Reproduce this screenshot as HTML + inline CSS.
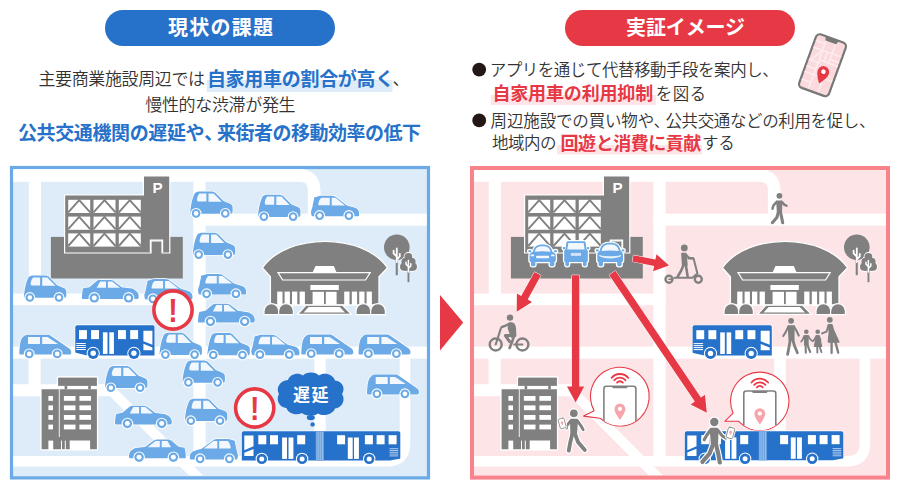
<!DOCTYPE html>
<html lang="ja"><head><meta charset="utf-8"><title>現状の課題 / 実証イメージ</title>
<style>html,body{margin:0;padding:0;background:#fff}svg{display:block}</style></head><body>
<svg width="900" height="490" viewBox="0 0 900 490" font-family="&quot;Liberation Sans&quot;, &quot;Noto Sans CJK JP&quot;, sans-serif">
<defs>
<g id="kei">
<path d="M0.2,20 C0.8,14 2,8 3.6,4.5 C4.5,2 5.5,0.8 8.6,0.3 L20.6,0.3 C23,0.3 24.5,0.8 26,2.4 L33.4,9.9 L40,12.6 C42,13.5 42.5,15 42.5,16.5 L42.5,20.5 C42.5,22 41.5,22.5 40.5,22.5 L1.5,22.5 C0.5,22.5 0,21.5 0.2,20 Z" fill="#6BAAE6" stroke="#fff" stroke-width="1.4" paint-order="stroke"/>
<path d="M9.5,2.2 L16.3,2.2 L16.3,10.3 L8.5,10.3 C7,10.3 6.5,9 7,7.5 C7.5,5 8,3.5 9.5,2.2Z M18.4,2.2 L23.5,2.2 L31.7,10.5 L18.4,10.5 Z" fill="#F2F8FD"/>
<circle cx="6" cy="22.2" r="5.4" fill="#fff"/><circle cx="6" cy="22.2" r="4.3" fill="#6BAAE6"/><circle cx="6" cy="22.2" r="2.28" fill="#fff"/><circle cx="35.2" cy="22.2" r="5.4" fill="#fff"/><circle cx="35.2" cy="22.2" r="4.3" fill="#6BAAE6"/><circle cx="35.2" cy="22.2" r="2.28" fill="#fff"/>
</g>
<g id="sedan">
<path d="M0,17.5 L0,18.4 C0,19 0.4,19.3 1,19.3 L55.4,19.3 C56.4,19.3 56.8,18.4 56.8,16.4 C56.6,13.6 55.4,12 53,10.6 C52,9.8 51.2,9.2 50,9 L41.5,7.9 C40.4,7.7 39.8,7.4 39,6.8 L32.4,1.8 C31.4,1 30.4,0.6 29,0.5 L18,0.5 C16.4,0.5 15.4,0.9 14.2,1.8 L8.4,6.8 C7.6,7.4 7,7.7 6,7.9 L2.4,8.5 C1.4,8.7 1,9.2 0.8,10.2 C0.4,12.6 0.1,15 0,17.5Z" fill="#6BAAE6" stroke="#fff" stroke-width="1.4" paint-order="stroke"/>
<path d="M18.3,1.9 L24.1,1.9 L24.1,8.2 L14.8,8.2 Z M26,1.9 L30.3,1.9 L38.1,8.2 L26,8.2Z" fill="#F2F8FD"/>
<circle cx="12.4" cy="18.3" r="5.800000000000001" fill="#fff"/><circle cx="12.4" cy="18.3" r="4.7" fill="#6BAAE6"/><circle cx="12.4" cy="18.3" r="2.49" fill="#fff"/><circle cx="46.7" cy="18.3" r="5.800000000000001" fill="#fff"/><circle cx="46.7" cy="18.3" r="4.7" fill="#6BAAE6"/><circle cx="46.7" cy="18.3" r="2.49" fill="#fff"/>
</g>
<g id="hatch">
<path d="M3.2,3.8 L2.8,2.6 L3.4,2.3 C7,1 10,0.6 11.7,0.6 L20.7,0.6 C23,0.6 24.5,1.4 25.8,2.6 L36,10.2 L44,12.6 C46.5,13.4 47.5,15 48.1,17.2 L48.1,19.5 C48.1,20.5 47.5,21 46.5,21 L2,21 C1,21 0.5,20.4 0.3,19 L0,17.2 C0.3,15 1,13 1.5,11.5 C2,8 2.6,5.5 3.2,3.8Z" fill="#6BAAE6" stroke="#fff" stroke-width="1.4" paint-order="stroke"/>
<path d="M10.5,2.6 L18.8,2.6 L18.8,10 L8,10 C7,10 7.2,8 7.9,6.5 C8.5,4.5 9.5,3.2 10.5,2.6Z M20.7,2.6 L24.5,2.6 L34.1,10.2 L20.7,10.2Z" fill="#F2F8FD"/>
<circle cx="8.6" cy="20.4" r="5.5" fill="#fff"/><circle cx="8.6" cy="20.4" r="4.4" fill="#6BAAE6"/><circle cx="8.6" cy="20.4" r="2.33" fill="#fff"/><circle cx="37.9" cy="20.4" r="5.5" fill="#fff"/><circle cx="37.9" cy="20.4" r="4.4" fill="#6BAAE6"/><circle cx="37.9" cy="20.4" r="2.33" fill="#fff"/>
</g>
<g id="van">
<path d="M0,18.7 C0.2,14 0.5,11 0.9,9 C1.5,5.5 2.5,3.5 4.2,2.2 C5.5,1 6.5,0.3 7.9,0.3 L28.2,0.3 C30,0.3 31,0.8 32.5,2 L49.2,13.5 C50.8,14.6 51.9,16 51.9,17.2 L51.9,18.5 C51.9,19.7 51.3,20.2 50.3,20.2 L1.5,20.2 C0.5,20.2 0,19.7 0,18.7Z" fill="#6BAAE6" stroke="#fff" stroke-width="1.4" paint-order="stroke"/>
<path d="M8.7,2.7 L20.7,2.7 L20.7,9.7 L8.7,9.7Z M22.9,2.7 L28.2,2.7 L38.7,9.7 L22.9,9.7Z" fill="#F2F8FD"/>
<circle cx="9.9" cy="19.5" r="5.5" fill="#fff"/><circle cx="9.9" cy="19.5" r="4.4" fill="#6BAAE6"/><circle cx="9.9" cy="19.5" r="2.33" fill="#fff"/><circle cx="37.9" cy="19.5" r="5.5" fill="#fff"/><circle cx="37.9" cy="19.5" r="4.4" fill="#6BAAE6"/><circle cx="37.9" cy="19.5" r="2.33" fill="#fff"/>
</g>
<clipPath id="clipL"><rect x="11.5" y="167.5" width="417" height="310.4"/></clipPath><clipPath id="clipR"><rect x="472" y="168" width="416" height="309.6"/></clipPath></defs>
<rect width="900" height="490" fill="#fff"/>
<rect x="105" y="10" width="230" height="36" rx="18" fill="#2671C9"/>
<text x="168" y="35.2" font-weight="bold" font-size="20" fill="#fff" textLength="105" lengthAdjust="spacing">現状の課題</text>
<rect x="565" y="10" width="230" height="36" rx="18" fill="#E73945"/>
<text x="626" y="35.2" font-weight="bold" font-size="20" fill="#fff" textLength="119" lengthAdjust="spacing">実証イメージ</text>
<rect x="206.7" y="80" width="185.8" height="12" fill="#DEECF9"/>
<text x="38.5" y="85.2" font-size="17" font-weight="350" fill="#333333" textLength="166.5" lengthAdjust="spacing">主要商業施設周辺では</text>
<text x="206.9" y="85.6" font-weight="bold" font-size="19" fill="#2671C9" textLength="187.4" lengthAdjust="spacing">自家用車の割合が高く</text>
<text x="392.5" y="85.2" font-size="17" font-weight="350" fill="#333333">、</text>
<text x="145.2" y="110.6" font-size="17" font-weight="350" fill="#333333" textLength="150.4" lengthAdjust="spacing">慢性的な渋滞が発生</text>
<text y="139.6" font-weight="bold" font-size="19" fill="#2671C9"><tspan x="18" textLength="186.6" lengthAdjust="spacing">公共交通機関の遅延や</tspan><tspan x="204.2">、</tspan><tspan x="217" textLength="204" lengthAdjust="spacing">来街者の移動効率の低下</tspan></text>
<rect x="490.7" y="95" width="165.3" height="10" fill="#FDE5E7"/>
<rect x="557" y="145" width="145" height="9.5" fill="#FDE5E7"/>
<circle cx="479.2" cy="69.6" r="6.9" fill="#231815"/><circle cx="479.2" cy="120.4" r="6.9" fill="#231815"/>
<text x="489.7" y="76" font-size="16.5" font-weight="350" fill="#333333" textLength="289" lengthAdjust="spacing">アプリを通じて代替移動手段を案内し、</text>
<text x="492.4" y="100" font-weight="bold" font-size="18" fill="#E73945" textLength="160.8" lengthAdjust="spacing">自家用車の利用抑制</text>
<text x="655.8" y="99.6" font-size="16.5" font-weight="350" fill="#333333" textLength="50.2" lengthAdjust="spacing">を図る</text>
<text y="126.8" font-size="16.5" font-weight="350" fill="#333333"><tspan x="490.6" textLength="163.6" lengthAdjust="spacing">周辺施設での買い物や</tspan><tspan x="653.4">、</tspan><tspan x="665.4" textLength="210" lengthAdjust="spacing">公共交通などの利用を促し、</tspan></text>
<text x="492" y="149.2" font-size="16.5" font-weight="350" fill="#333333" textLength="64.5" lengthAdjust="spacing">地域内の</text>
<text x="560.6" y="149.6" font-weight="bold" font-size="18" fill="#E73945" textLength="140.6" lengthAdjust="spacing">回遊と消費に貢献</text>
<text x="702" y="149.2" font-size="16.5" font-weight="350" fill="#333333" textLength="32.7" lengthAdjust="spacing">する</text>
<g transform="translate(822.5,65.2) rotate(20)">
<rect x="-15.9" y="-28.4" width="31.8" height="56.8" rx="4.2" fill="#FBDADD" stroke="#777777" stroke-width="2.2"/>
<path d="M-14.8,-14 L14.8,-14 M-14.8,-1 L-3,-1 M-14.8,12 L14.8,12 M-14.8,20 L-5,20 M-5,-27 L-5,27 M5,-27 L5,-4 M5,12 L5,27 M-14.8,-21 L-5,-21 M5,-8 L14.8,-8 M-5,-4 L14.8,-4 M0,-14 L0,-4 M-14.8,6 L-5,6 M-5,-14 L-13,-1" stroke="#FDEDEF" stroke-width="1.5" fill="none"/>
<path d="M-7,-28.6 L7,-28.6 L6,-25 Q5.7,-24.2 4.8,-24.2 L-4.8,-24.2 Q-5.7,-24.2 -6,-25Z" fill="#777777"/>
<path d="M3.1,18.4 C-0.6,13 -2.7,9.6 -2.7,6 A5.8,5.8 0 0 1 8.9,6 C8.9,9.6 6.8,13 3.1,18.4Z" fill="#E73945"/><circle cx="3.1" cy="5.8" r="2.3" fill="#fff"/>
</g>
<path d="M440,295 L463.2,322.6 L440,350.6Z" fill="#E73945"/>
<rect x="11.5" y="167.5" width="417" height="310.4" fill="#DEECF9"/>
<g clip-path="url(#clipL)">
<g transform="translate(0,0)">
<path d="M12,175.4 L299,175.4 Q314.2,175.4 314.2,191 L314.2,220" fill="none" stroke="#fff" stroke-width="12.6"/>
<rect x="12" y="168" width="290" height="13.3" fill="#fff"/>
<rect x="28.8" y="168" width="12.2" height="130" fill="#fff"/>
<rect x="193.4" y="175" width="12.2" height="285" fill="#fff"/>
<rect x="193.4" y="213.7" width="236" height="11.9" fill="#fff"/>
<rect x="12" y="293.6" width="193.6" height="11.6" fill="#fff"/>
<rect x="12" y="346.6" width="417" height="12" fill="#fff"/>
<rect x="28.6" y="358" width="12.1" height="30" fill="#fff"/>
<path d="M12,384.3 L111.9,384.3 L203,475.4 L189,475.4 L110,396.3 L12,396.3Z" fill="#fff"/>
<rect x="314.3" y="358" width="11.4" height="100" fill="#fff"/>
<path d="M12,461.3 L387,461.3 Q405,461.3 405,443 L405,356" fill="none" stroke="#fff" stroke-width="10.6"/>
</g>
</g>
<rect x="11.5" y="167.5" width="417" height="310.4" fill="none" stroke="#6BAAE6" stroke-width="3.2"/>
<rect x="50.9" y="236.9" width="131.9" height="41.6" fill="#808080"/>
<path d="M65.2,195.6 L144,195.6 L144,176.4 L169.2,176.4 L169.2,252.4 L162.6,252.4 L162.6,240.2 L150.4,240.2 L150.4,252.4 L65.2,252.4Z" fill="#808080" stroke="#fff" stroke-width="2.4" paint-order="stroke" stroke-linejoin="miter"/><path d="M150.4,252.4 L150.4,240.2 L162.6,240.2 L162.6,252.4" fill="none" stroke="#fff" stroke-width="1.2"/>
<rect x="68.2" y="199.8" width="22" height="13.2" fill="#fff"/>
<path d="M68.2,212.4 L79.2,200.1 L90.2,212.4" fill="none" stroke="#808080" stroke-width="1.9"/>
<rect x="93.5" y="199.8" width="22" height="13.2" fill="#fff"/>
<path d="M93.5,212.4 L104.5,200.1 L115.5,212.4" fill="none" stroke="#808080" stroke-width="1.9"/>
<rect x="118.8" y="199.8" width="22" height="13.2" fill="#fff"/>
<path d="M118.8,212.4 L129.8,200.1 L140.8,212.4" fill="none" stroke="#808080" stroke-width="1.9"/>
<rect x="68.2" y="216.6" width="22" height="13.2" fill="#fff"/>
<path d="M68.2,229.2 L79.2,216.9 L90.2,229.2" fill="none" stroke="#808080" stroke-width="1.9"/>
<rect x="93.5" y="216.6" width="22" height="13.2" fill="#fff"/>
<path d="M93.5,229.2 L104.5,216.9 L115.5,229.2" fill="none" stroke="#808080" stroke-width="1.9"/>
<rect x="118.8" y="216.6" width="22" height="13.2" fill="#fff"/>
<path d="M118.8,229.2 L129.8,216.9 L140.8,229.2" fill="none" stroke="#808080" stroke-width="1.9"/>
<rect x="68.2" y="233.4" width="22" height="13.2" fill="#fff"/>
<path d="M68.2,246.0 L79.2,233.7 L90.2,246.0" fill="none" stroke="#808080" stroke-width="1.9"/>
<rect x="93.5" y="233.4" width="22" height="13.2" fill="#fff"/>
<path d="M93.5,246.0 L104.5,233.7 L115.5,246.0" fill="none" stroke="#808080" stroke-width="1.9"/>
<rect x="118.8" y="233.4" width="22" height="13.2" fill="#fff"/>
<path d="M118.8,246.0 L129.8,233.7 L140.8,246.0" fill="none" stroke="#808080" stroke-width="1.9"/>
<text x="157.6" y="193.2" font-family="&quot;Liberation Sans&quot;, &quot;Noto Sans CJK JP&quot;, sans-serif" font-weight="bold" font-size="15.2" fill="#fff" text-anchor="middle">P</text>
<g stroke="#fff" stroke-width="1.3" stroke-linejoin="round">
<path d="M262.3,267.8 C275,250 300,241.3 325,241.3 C350,241.3 375,250 387.6,267.8 L379,276.8 L379,305 L270.4,305 L270.4,276.8 Z" fill="#808080"/>
</g>
<path d="M278,272.6 L370.2,272.6 L365.6,280 L282.6,280Z" fill="#808080" stroke="#fff" stroke-width="1.2"/>
<path d="M315.5,266 L333.8,266 L336.6,272.6 L312.6,272.6Z" fill="#fff"/>
<rect x="310.4" y="285" width="28.4" height="5" fill="#fff"/>
<rect x="312.6" y="291.8" width="11.4" height="13" fill="#fff"/>
<rect x="325.8" y="291.8" width="10.8" height="13" fill="#fff"/>
<rect x="277.2" y="291.6" width="5.3" height="13.4" fill="#fff"/>
<rect x="284.6" y="291.6" width="5.3" height="13.4" fill="#fff"/>
<rect x="292" y="291.6" width="5.3" height="13.4" fill="#fff"/>
<rect x="299.6" y="291.6" width="5.3" height="13.4" fill="#fff"/>
<rect x="344.2" y="291.6" width="5.3" height="13.4" fill="#fff"/>
<rect x="351.8" y="291.6" width="5.3" height="13.4" fill="#fff"/>
<rect x="359.2" y="291.6" width="5.3" height="13.4" fill="#fff"/>
<rect x="366.6" y="291.6" width="5.3" height="13.4" fill="#fff"/>
<path d="M306,305.2 L342.4,305.2 L351.4,314.4 L297.6,314.4Z" fill="#808080" stroke="#fff" stroke-width="1.2"/>
<path d="M308.6,307 L339.8,307 L345,312.6 L303.6,312.6Z" fill="#fff"/>
<path d="M264.0,314.6 L264.0,311 A7.4,7.4 0 0 1 278.79999999999995,311 L278.79999999999995,314.6Z" fill="#808080" stroke="#fff" stroke-width="1.2"/>
<path d="M278.6,314.6 L278.6,311 A7.4,7.4 0 0 1 293.4,311 L293.4,314.6Z" fill="#808080" stroke="#fff" stroke-width="1.2"/>
<path d="M356.0,314.6 L356.0,311 A7.4,7.4 0 0 1 370.79999999999995,311 L370.79999999999995,314.6Z" fill="#808080" stroke="#fff" stroke-width="1.2"/>
<path d="M370.6,314.6 L370.6,311 A7.4,7.4 0 0 1 385.4,311 L385.4,314.6Z" fill="#808080" stroke="#fff" stroke-width="1.2"/>
<circle cx="396.8" cy="247.2" r="12.8" fill="#808080"/>
<rect x="395.7" y="255" width="2.1" height="20.2" fill="#808080"/>
<path d="M396.8,262 L396.8,248.4 M396.8,256.6 L393.6,253.4 L393.6,250.6 M396.8,259.4 L399.8,256.4 L399.8,253.8" fill="none" stroke="#fff" stroke-width="1.8" stroke-linecap="round"/>
<g fill="#fff" stroke="#fff" stroke-width="1.6"><circle cx="408.4" cy="256.8" r="3.9"/><circle cx="405.4" cy="261.8" r="4"/><circle cx="411.6" cy="261.8" r="4"/><circle cx="404" cy="266.8" r="4"/><circle cx="413" cy="266.8" r="4"/><rect x="404" y="258" width="9" height="12.8"/></g><g fill="#808080"><circle cx="408.4" cy="256.8" r="3.9"/><circle cx="405.4" cy="261.8" r="4"/><circle cx="411.6" cy="261.8" r="4"/><circle cx="404" cy="266.8" r="4"/><circle cx="413" cy="266.8" r="4"/><rect x="404" y="258" width="9" height="12.8"/></g>
<rect x="407.5" y="268" width="1.9" height="14.2" fill="#808080"/>
<path d="M408.4,272 L408.4,260.4 M408.4,266.6 L406,264.2 L406,262.2 M408.4,268.4 L410.8,266 L410.8,263.8" fill="none" stroke="#fff" stroke-width="1.5" stroke-linecap="round"/>
<g fill="#fff" stroke="#fff" stroke-width="2.6" stroke-linejoin="round"><rect x="58.1" y="377.6" width="38.8" height="8.3"/><rect x="41.6" y="389.2" width="55.3" height="60.1"/><rect x="63.5" y="385" width="26" height="5"/></g>
<rect x="58.1" y="377.6" width="38.8" height="8.3" fill="#808080"/>
<rect x="64.6" y="385.9" width="2.6" height="3.3" fill="#808080"/><rect x="88.2" y="385.9" width="2.6" height="3.3" fill="#808080"/>
<path d="M41.6,389.2 L96.9,389.2 L96.9,449.3 L90.1,449.3 L90.1,440.6 L69.7,440.6 L69.7,449.3 L41.6,449.3Z" fill="#808080"/>
<path d="M59.3,389.2 L59.3,437" stroke="#fff" stroke-width="0.9" fill="none"/>
<rect x="48.4" y="396" width="4.6" height="4.8" fill="#fff"/>
<rect x="63.9" y="396" width="11.6" height="4.8" fill="#fff"/>
<rect x="79.4" y="396" width="11.6" height="4.8" fill="#fff"/>
<rect x="48.4" y="405.4" width="4.6" height="4.8" fill="#fff"/>
<rect x="63.9" y="405.4" width="11.6" height="4.8" fill="#fff"/>
<rect x="79.4" y="405.4" width="11.6" height="4.8" fill="#fff"/>
<rect x="48.4" y="415" width="4.6" height="4.8" fill="#fff"/>
<rect x="63.9" y="415" width="11.6" height="4.8" fill="#fff"/>
<rect x="79.4" y="415" width="11.6" height="4.8" fill="#fff"/>
<rect x="48.4" y="424.6" width="4.6" height="4.8" fill="#fff"/>
<rect x="63.9" y="424.6" width="11.6" height="4.8" fill="#fff"/>
<rect x="79.4" y="424.6" width="11.6" height="4.8" fill="#fff"/>
<rect x="48.4" y="440.6" width="4.8" height="9.4" fill="#fff"/>
<rect x="61" y="440.6" width="1" height="9.4" fill="#fff"/><rect x="64.8" y="440.6" width="1" height="9.4" fill="#fff"/>
<use href="#kei" x="190.1" y="191.2"/>
<use href="#kei" x="257.9" y="194.4"/>
<use href="#hatch" x="311" y="195.2"/>
<use href="#kei" x="192.7" y="232.4"/>
<use href="#kei" x="23.8" y="275.3"/>
<use href="#sedan" x="81.9" y="279.6"/>
<use href="#hatch" x="144.3" y="278.4"/>
<use href="#hatch" x="198" y="273.4"/>
<use href="#sedan" x="198" y="303.2"/>
<use href="#van" x="19.3" y="334.4"/>
<use href="#kei" x="159.4" y="332.4"/>
<use href="#kei" x="207.3" y="332.8"/>
<use href="#hatch" x="251.3" y="334.2"/>
<use href="#van" x="301.3" y="334.2"/>
<use href="#van" x="358.5" y="334.2"/>
<use href="#kei" x="104.9" y="365.6"/>
<use href="#kei" x="182.4" y="360.2"/>
<use href="#van" x="367" y="374.3"/>
<use href="#sedan" x="115" y="405.2"/>
<use href="#kei" x="184.8" y="398.5"/>
<use href="#sedan" transform="translate(185.8,439) scale(-1,1)"/>
<use href="#hatch" transform="translate(238.0,438.4) scale(-1,1)"/>
<g transform="translate(75.3,325.2)">
<path d="M2,0 L77.5,0 Q79.2,0 79.2,1.8 L79.2,30.3 L12,30.3 L0.6,27.6 Q0,27.4 0,26.6 L0,2 Q0,0 2,0Z" fill="#2671C9" stroke="#fff" stroke-width="1.2" paint-order="stroke"/>
<rect x="3.7" y="4.9" width="7.9" height="9" fill="#fff"/>
<rect x="15.8" y="4.9" width="7.9" height="9" fill="#fff"/>
<rect x="42.7" y="4.9" width="7.9" height="9" fill="#fff"/>
<rect x="54.9" y="4.9" width="7.9" height="9" fill="#fff"/>
<rect x="27.6" y="7.1" width="4.6" height="21.6" fill="#fff"/><rect x="34" y="7.1" width="4.6" height="21.6" fill="#fff"/>
<path d="M68.1,5.5 L77.1,5.5 L77.1,19.5 L68.1,16Z M68.1,18.6 L77.1,22.2 L77.1,25 L68.1,25Z" fill="#fff"/>
<path d="M1,18.3 L10.5,18.3 M1,20.3 L10.5,20.3 M1,22.3 L10.5,22.3 M1,24.3 L10.5,24.3" stroke="#fff" stroke-width="1" fill="none"/>
<circle cx="17.9" cy="28.1" r="6.6" fill="#fff"/><circle cx="17.9" cy="28.1" r="5.6" fill="#2671C9"/><circle cx="17.9" cy="28.1" r="2.7" fill="#fff"/>
<circle cx="58.6" cy="28.1" r="6.6" fill="#fff"/><circle cx="58.6" cy="28.1" r="5.6" fill="#2671C9"/><circle cx="58.6" cy="28.1" r="2.7" fill="#fff"/>
</g>
<g transform="translate(241.8,431.3)">
<path d="M1.8,0 L156.7,0 Q158.5,0 158.5,1.8 L158.5,26.4 Q158.5,27.2 157.8,27.4 L148,29.1 L0,29.1 L0,1.8 Q0,0 1.8,0Z" fill="#2671C9" stroke="#fff" stroke-width="1.2" paint-order="stroke"/>
<rect x="73.9" y="0" width="8.3" height="29.1" fill="#5C98DC"/>
<path d="M75.2,0 L75.2,29.1 M77.1,0 L77.1,29.1 M79,0 L79,29.1 M80.9,0 L80.9,29.1" stroke="#CFE2F6" stroke-width="0.6"/>
<path d="M2.5,4.3 L11.7,4.3 L11.7,15 L2.5,19Z M2.5,21.4 L11.7,17.6 L11.7,24.7 L2.5,24.7Z" fill="#fff"/>
<rect x="16.5" y="3.9" width="8" height="9.1" fill="#fff"/>
<rect x="28.2" y="3.9" width="8" height="9.1" fill="#fff"/>
<rect x="55.4" y="3.9" width="8" height="9.1" fill="#fff"/>
<rect x="95.3" y="3.9" width="8" height="9.1" fill="#fff"/>
<rect x="123.1" y="3.9" width="8" height="9.1" fill="#fff"/>
<rect x="134.8" y="3.9" width="8" height="9.1" fill="#fff"/>
<rect x="146.8" y="3.9" width="8" height="9.1" fill="#fff"/>
<rect x="40.3" y="6.2" width="4.9" height="21.4" fill="#fff"/>
<rect x="46.7" y="6.2" width="4.9" height="21.4" fill="#fff"/>
<rect x="106" y="6.2" width="4.9" height="21.4" fill="#fff"/>
<rect x="112.2" y="6.2" width="4.9" height="21.4" fill="#fff"/>
<path d="M147.8,17.4 L156.5,17.4 M147.8,19.2 L156.5,19.2 M147.8,21 L156.5,21 M147.8,22.8 L156.5,22.8 M147.8,24.6 L156.5,24.6" stroke="#BFD6F0" stroke-width="0.9" fill="none"/>
<circle cx="20" cy="27.6" r="6.2" fill="#fff"/><circle cx="20" cy="27.6" r="5.2" fill="#2671C9"/><circle cx="20" cy="27.6" r="2.5" fill="#fff"/>
<circle cx="60.3" cy="27.6" r="6.2" fill="#fff"/><circle cx="60.3" cy="27.6" r="5.2" fill="#2671C9"/><circle cx="60.3" cy="27.6" r="2.5" fill="#fff"/>
<circle cx="127.4" cy="27.6" r="6.2" fill="#fff"/><circle cx="127.4" cy="27.6" r="5.2" fill="#2671C9"/><circle cx="127.4" cy="27.6" r="2.5" fill="#fff"/>
</g>
<circle cx="173" cy="310" r="19.1" fill="#fff" stroke="#E73945" stroke-width="3.6"/><text transform="translate(173,322.3) scale(0.86,1)" font-family="&quot;Liberation Sans&quot;, &quot;Noto Sans CJK JP&quot;, sans-serif" font-weight="bold" font-size="33" fill="#E73945" text-anchor="middle">!</text>
<circle cx="254.7" cy="408" r="19.1" fill="#fff" stroke="#E73945" stroke-width="3.6"/><text transform="translate(254.7,420.3) scale(0.86,1)" font-family="&quot;Liberation Sans&quot;, &quot;Noto Sans CJK JP&quot;, sans-serif" font-weight="bold" font-size="33" fill="#E73945" text-anchor="middle">!</text>
<path d="M288,380 C290,374 298,372 303,375.5 C306,371.5 316,371.5 319,375.5 C324,372 333,374 335,380.5 C342,381 346,388 342,394 C346,400 342,408 335,408.5 C333,414 324,417 318,413.5 C314,416.5 306,416.5 302,413 C296,416 288,413.5 286.5,408 C279.5,407.5 275.5,400 279,394 C275.5,388 280,380.5 288,380Z" fill="#2671C9"/>
<ellipse cx="310.8" cy="417.6" rx="4" ry="2.6" fill="#2671C9"/><circle cx="312.6" cy="424.4" r="2.2" fill="#2671C9"/>
<text x="310.8" y="401" font-family="&quot;Liberation Sans&quot;, &quot;Noto Sans CJK JP&quot;, sans-serif" font-weight="bold" font-size="17" fill="#fff" text-anchor="middle" textLength="35.6" lengthAdjust="spacing">遅延</text>
<rect x="472" y="168" width="416" height="309.6" fill="#FDE5E7"/>
<g clip-path="url(#clipR)">
<g transform="translate(460,0)">
<path d="M12,175.4 L299,175.4 Q314.2,175.4 314.2,191 L314.2,220" fill="none" stroke="#fff" stroke-width="12.6"/>
<rect x="12" y="168" width="290" height="13.3" fill="#fff"/>
<rect x="28.8" y="168" width="12.2" height="130" fill="#fff"/>
<rect x="193.4" y="175" width="12.2" height="285" fill="#fff"/>
<rect x="193.4" y="213.7" width="236" height="11.9" fill="#fff"/>
<rect x="12" y="293.6" width="193.6" height="11.6" fill="#fff"/>
<rect x="12" y="346.6" width="417" height="12" fill="#fff"/>
<rect x="28.6" y="358" width="12.1" height="30" fill="#fff"/>
<path d="M12,384.3 L111.9,384.3 L203,475.4 L189,475.4 L110,396.3 L12,396.3Z" fill="#fff"/>
<rect x="314.3" y="358" width="11.4" height="100" fill="#fff"/>
<path d="M12,461.3 L387,461.3 Q405,461.3 405,443 L405,356" fill="none" stroke="#fff" stroke-width="10.6"/>
</g>
</g>
<rect x="472" y="168" width="416" height="309.6" fill="none" stroke="#F9838B" stroke-width="4"/>
<g transform="translate(460,0)"><rect x="50.9" y="236.9" width="131.9" height="41.6" fill="#808080"/>
<path d="M65.2,195.6 L144,195.6 L144,176.4 L169.2,176.4 L169.2,252.4 L162.6,252.4 L162.6,240.2 L150.4,240.2 L150.4,252.4 L65.2,252.4Z" fill="#808080" stroke="#fff" stroke-width="2.4" paint-order="stroke" stroke-linejoin="miter"/><path d="M150.4,252.4 L150.4,240.2 L162.6,240.2 L162.6,252.4" fill="none" stroke="#fff" stroke-width="1.2"/>
<rect x="68.2" y="199.8" width="22" height="13.2" fill="#fff"/>
<path d="M68.2,212.4 L79.2,200.1 L90.2,212.4" fill="none" stroke="#808080" stroke-width="1.9"/>
<rect x="93.5" y="199.8" width="22" height="13.2" fill="#fff"/>
<path d="M93.5,212.4 L104.5,200.1 L115.5,212.4" fill="none" stroke="#808080" stroke-width="1.9"/>
<rect x="118.8" y="199.8" width="22" height="13.2" fill="#fff"/>
<path d="M118.8,212.4 L129.8,200.1 L140.8,212.4" fill="none" stroke="#808080" stroke-width="1.9"/>
<rect x="68.2" y="216.6" width="22" height="13.2" fill="#fff"/>
<path d="M68.2,229.2 L79.2,216.9 L90.2,229.2" fill="none" stroke="#808080" stroke-width="1.9"/>
<rect x="93.5" y="216.6" width="22" height="13.2" fill="#fff"/>
<path d="M93.5,229.2 L104.5,216.9 L115.5,229.2" fill="none" stroke="#808080" stroke-width="1.9"/>
<rect x="118.8" y="216.6" width="22" height="13.2" fill="#fff"/>
<path d="M118.8,229.2 L129.8,216.9 L140.8,229.2" fill="none" stroke="#808080" stroke-width="1.9"/>
<rect x="68.2" y="233.4" width="22" height="13.2" fill="#fff"/>
<path d="M68.2,246.0 L79.2,233.7 L90.2,246.0" fill="none" stroke="#808080" stroke-width="1.9"/>
<rect x="93.5" y="233.4" width="22" height="13.2" fill="#fff"/>
<path d="M93.5,246.0 L104.5,233.7 L115.5,246.0" fill="none" stroke="#808080" stroke-width="1.9"/>
<rect x="118.8" y="233.4" width="22" height="13.2" fill="#fff"/>
<path d="M118.8,246.0 L129.8,233.7 L140.8,246.0" fill="none" stroke="#808080" stroke-width="1.9"/>
<text x="157.6" y="193.2" font-family="&quot;Liberation Sans&quot;, &quot;Noto Sans CJK JP&quot;, sans-serif" font-weight="bold" font-size="15.2" fill="#fff" text-anchor="middle">P</text><g stroke="#fff" stroke-width="1.3" stroke-linejoin="round">
<path d="M262.3,267.8 C275,250 300,241.3 325,241.3 C350,241.3 375,250 387.6,267.8 L379,276.8 L379,305 L270.4,305 L270.4,276.8 Z" fill="#808080"/>
</g>
<path d="M278,272.6 L370.2,272.6 L365.6,280 L282.6,280Z" fill="#808080" stroke="#fff" stroke-width="1.2"/>
<path d="M315.5,266 L333.8,266 L336.6,272.6 L312.6,272.6Z" fill="#fff"/>
<rect x="310.4" y="285" width="28.4" height="5" fill="#fff"/>
<rect x="312.6" y="291.8" width="11.4" height="13" fill="#fff"/>
<rect x="325.8" y="291.8" width="10.8" height="13" fill="#fff"/>
<rect x="277.2" y="291.6" width="5.3" height="13.4" fill="#fff"/>
<rect x="284.6" y="291.6" width="5.3" height="13.4" fill="#fff"/>
<rect x="292" y="291.6" width="5.3" height="13.4" fill="#fff"/>
<rect x="299.6" y="291.6" width="5.3" height="13.4" fill="#fff"/>
<rect x="344.2" y="291.6" width="5.3" height="13.4" fill="#fff"/>
<rect x="351.8" y="291.6" width="5.3" height="13.4" fill="#fff"/>
<rect x="359.2" y="291.6" width="5.3" height="13.4" fill="#fff"/>
<rect x="366.6" y="291.6" width="5.3" height="13.4" fill="#fff"/>
<path d="M306,305.2 L342.4,305.2 L351.4,314.4 L297.6,314.4Z" fill="#808080" stroke="#fff" stroke-width="1.2"/>
<path d="M308.6,307 L339.8,307 L345,312.6 L303.6,312.6Z" fill="#fff"/>
<path d="M264.0,314.6 L264.0,311 A7.4,7.4 0 0 1 278.79999999999995,311 L278.79999999999995,314.6Z" fill="#808080" stroke="#fff" stroke-width="1.2"/>
<path d="M278.6,314.6 L278.6,311 A7.4,7.4 0 0 1 293.4,311 L293.4,314.6Z" fill="#808080" stroke="#fff" stroke-width="1.2"/>
<path d="M356.0,314.6 L356.0,311 A7.4,7.4 0 0 1 370.79999999999995,311 L370.79999999999995,314.6Z" fill="#808080" stroke="#fff" stroke-width="1.2"/>
<path d="M370.6,314.6 L370.6,311 A7.4,7.4 0 0 1 385.4,311 L385.4,314.6Z" fill="#808080" stroke="#fff" stroke-width="1.2"/>
<circle cx="396.8" cy="247.2" r="12.8" fill="#808080"/>
<rect x="395.7" y="255" width="2.1" height="20.2" fill="#808080"/>
<path d="M396.8,262 L396.8,248.4 M396.8,256.6 L393.6,253.4 L393.6,250.6 M396.8,259.4 L399.8,256.4 L399.8,253.8" fill="none" stroke="#fff" stroke-width="1.8" stroke-linecap="round"/>
<g fill="#fff" stroke="#fff" stroke-width="1.6"><circle cx="408.4" cy="256.8" r="3.9"/><circle cx="405.4" cy="261.8" r="4"/><circle cx="411.6" cy="261.8" r="4"/><circle cx="404" cy="266.8" r="4"/><circle cx="413" cy="266.8" r="4"/><rect x="404" y="258" width="9" height="12.8"/></g><g fill="#808080"><circle cx="408.4" cy="256.8" r="3.9"/><circle cx="405.4" cy="261.8" r="4"/><circle cx="411.6" cy="261.8" r="4"/><circle cx="404" cy="266.8" r="4"/><circle cx="413" cy="266.8" r="4"/><rect x="404" y="258" width="9" height="12.8"/></g>
<rect x="407.5" y="268" width="1.9" height="14.2" fill="#808080"/>
<path d="M408.4,272 L408.4,260.4 M408.4,266.6 L406,264.2 L406,262.2 M408.4,268.4 L410.8,266 L410.8,263.8" fill="none" stroke="#fff" stroke-width="1.5" stroke-linecap="round"/><g fill="#fff" stroke="#fff" stroke-width="2.6" stroke-linejoin="round"><rect x="58.1" y="377.6" width="38.8" height="8.3"/><rect x="41.6" y="389.2" width="55.3" height="60.1"/><rect x="63.5" y="385" width="26" height="5"/></g>
<rect x="58.1" y="377.6" width="38.8" height="8.3" fill="#808080"/>
<rect x="64.6" y="385.9" width="2.6" height="3.3" fill="#808080"/><rect x="88.2" y="385.9" width="2.6" height="3.3" fill="#808080"/>
<path d="M41.6,389.2 L96.9,389.2 L96.9,449.3 L90.1,449.3 L90.1,440.6 L69.7,440.6 L69.7,449.3 L41.6,449.3Z" fill="#808080"/>
<path d="M59.3,389.2 L59.3,437" stroke="#fff" stroke-width="0.9" fill="none"/>
<rect x="48.4" y="396" width="4.6" height="4.8" fill="#fff"/>
<rect x="63.9" y="396" width="11.6" height="4.8" fill="#fff"/>
<rect x="79.4" y="396" width="11.6" height="4.8" fill="#fff"/>
<rect x="48.4" y="405.4" width="4.6" height="4.8" fill="#fff"/>
<rect x="63.9" y="405.4" width="11.6" height="4.8" fill="#fff"/>
<rect x="79.4" y="405.4" width="11.6" height="4.8" fill="#fff"/>
<rect x="48.4" y="415" width="4.6" height="4.8" fill="#fff"/>
<rect x="63.9" y="415" width="11.6" height="4.8" fill="#fff"/>
<rect x="79.4" y="415" width="11.6" height="4.8" fill="#fff"/>
<rect x="48.4" y="424.6" width="4.6" height="4.8" fill="#fff"/>
<rect x="63.9" y="424.6" width="11.6" height="4.8" fill="#fff"/>
<rect x="79.4" y="424.6" width="11.6" height="4.8" fill="#fff"/>
<rect x="48.4" y="440.6" width="4.8" height="9.4" fill="#fff"/>
<rect x="61" y="440.6" width="1" height="9.4" fill="#fff"/><rect x="64.8" y="440.6" width="1" height="9.4" fill="#fff"/></g>
<g transform="translate(528.6,244.2)">
<g stroke="#fff" stroke-width="2.6" stroke-linejoin="round" fill="#fff"><path d="M4.3,7.5 C5.5,2.5 8,0.3 14,0.3 C20,0.3 22.5,2.5 23.8,7.5 C26.5,8.5 27.2,10 27.2,12 L27.2,16 Q27.2,17.8 25.7,17.8 L25.7,20.5 Q25.7,22 24.2,22 L22.6,22 Q21.2,22 21.2,20.5 L21.2,17.8 L6.8,17.8 L6.8,20.5 Q6.8,22 5.4,22 L3.8,22 Q2.4,22 2.4,20.5 L2.4,17.8 Q0.9,17.8 0.9,16 L0.9,12 C0.9,10 1.6,8.5 4.3,7.5Z"/><ellipse cx="1.2" cy="7" rx="1.6" ry="1.1"/><ellipse cx="26.9" cy="7" rx="1.6" ry="1.1"/></g>
<path d="M4.3,7.5 C5.5,2.5 8,0.3 14,0.3 C20,0.3 22.5,2.5 23.8,7.5 C26.5,8.5 27.2,10 27.2,12 L27.2,16 Q27.2,17.8 25.7,17.8 L25.7,20.5 Q25.7,22 24.2,22 L22.6,22 Q21.2,22 21.2,20.5 L21.2,17.8 L6.8,17.8 L6.8,20.5 Q6.8,22 5.4,22 L3.8,22 Q2.4,22 2.4,20.5 L2.4,17.8 Q0.9,17.8 0.9,16 L0.9,12 C0.9,10 1.6,8.5 4.3,7.5Z" fill="#6BAAE6"/>
<ellipse cx="1.2" cy="7" rx="1.6" ry="1.1" fill="#6BAAE6"/><ellipse cx="26.9" cy="7" rx="1.6" ry="1.1" fill="#6BAAE6"/>
<path d="M6.2,7.6 C7,3.5 9,2 14,2 C19,2 21,3.5 21.9,7.6 C17,6.9 11,6.9 6.2,7.6Z" fill="#F2F8FD"/>
<rect x="7.4" y="11.6" width="13.2" height="2.5" rx="1.2" fill="#F2F8FD"/>
<rect x="2" y="10.3" width="3.6" height="1.8" rx="0.9" fill="#F2F8FD"/><rect x="22.4" y="10.3" width="3.6" height="1.8" rx="0.9" fill="#F2F8FD"/>
</g>
<g transform="translate(563.4,240.8)">
<g stroke="#fff" stroke-width="2.6" stroke-linejoin="round" fill="#fff"><path d="M4.6,0.4 L20.6,0.4 Q22,0.4 22.2,1.8 L23.2,8.5 Q24.4,9.2 24.4,10.8 L24.4,19.6 Q24.4,21.1 23.2,21.1 L23.2,24 Q23.2,25.4 21.8,25.4 L21,25.4 Q19.6,25.4 19.6,24 L19.6,21.1 L5.6,21.1 L5.6,24 Q5.6,25.4 4.2,25.4 L3.4,25.4 Q2,25.4 2,24 L2,21.1 Q0.8,21.1 0.8,19.6 L0.8,10.8 Q0.8,9.2 2,8.5 L3,1.8 Q3.2,0.4 4.6,0.4Z"/><rect x="-0.6" y="6.2" width="2.2" height="2.2" rx="0.6"/><rect x="23.6" y="6.2" width="2.2" height="2.2" rx="0.6"/></g>
<path d="M4.6,0.4 L20.6,0.4 Q22,0.4 22.2,1.8 L23.2,8.5 Q24.4,9.2 24.4,10.8 L24.4,19.6 Q24.4,21.1 23.2,21.1 L23.2,24 Q23.2,25.4 21.8,25.4 L21,25.4 Q19.6,25.4 19.6,24 L19.6,21.1 L5.6,21.1 L5.6,24 Q5.6,25.4 4.2,25.4 L3.4,25.4 Q2,25.4 2,24 L2,21.1 Q0.8,21.1 0.8,19.6 L0.8,10.8 Q0.8,9.2 2,8.5 L3,1.8 Q3.2,0.4 4.6,0.4Z" fill="#6BAAE6"/><rect x="-0.6" y="6.2" width="2.2" height="2.2" rx="0.6" fill="#6BAAE6"/><rect x="23.6" y="6.2" width="2.2" height="2.2" rx="0.6" fill="#6BAAE6"/>
<path d="M5,2.2 L20.2,2.2 L21.3,8.8 L3.9,8.8Z" fill="#F2F8FD"/>
<rect x="7.4" y="12.1" width="10.2" height="3" fill="#CFE3F7"/>
</g>
<g transform="translate(596.4,242.4)">
<g stroke="#fff" stroke-width="2.6" stroke-linejoin="round" fill="#fff"><path d="M3.4,8.4 C4.2,3 7,0.4 13.7,0.4 C20.5,0.4 23.2,3 24.1,8.4 C26,9.4 26.6,11 26.6,13 L26.6,18 Q26.6,19.6 25.2,19.6 L25.2,22.4 Q25.2,23.8 23.8,23.8 L22.2,23.8 Q20.8,23.8 20.8,22.4 L20.8,19.6 L6.6,19.6 L6.6,22.4 Q6.6,23.8 5.2,23.8 L3.6,23.8 Q2.2,23.8 2.2,22.4 L2.2,19.6 Q0.9,19.6 0.9,18 L0.9,13 C0.9,11 1.5,9.4 3.4,8.4Z"/><ellipse cx="0.9" cy="8" rx="1.5" ry="1.1"/><ellipse cx="26.6" cy="8" rx="1.5" ry="1.1"/></g>
<path d="M3.4,8.4 C4.2,3 7,0.4 13.7,0.4 C20.5,0.4 23.2,3 24.1,8.4 C26,9.4 26.6,11 26.6,13 L26.6,18 Q26.6,19.6 25.2,19.6 L25.2,22.4 Q25.2,23.8 23.8,23.8 L22.2,23.8 Q20.8,23.8 20.8,22.4 L20.8,19.6 L6.6,19.6 L6.6,22.4 Q6.6,23.8 5.2,23.8 L3.6,23.8 Q2.2,23.8 2.2,22.4 L2.2,19.6 Q0.9,19.6 0.9,18 L0.9,13 C0.9,11 1.5,9.4 3.4,8.4Z" fill="#6BAAE6"/><ellipse cx="0.9" cy="8" rx="1.5" ry="1.1" fill="#6BAAE6"/><ellipse cx="26.6" cy="8" rx="1.5" ry="1.1" fill="#6BAAE6"/>
<path d="M5.2,8.6 C6,3.8 8.4,2 13.7,2 C19,2 21.6,3.8 22.4,8.6 C17,7.8 10.5,7.8 5.2,8.6Z" fill="#F2F8FD"/>
<path d="M3,13.2 C8,16.4 19.5,16.4 24.6,13.2 C19.5,14.8 8,14.8 3,13.2Z" fill="#F2F8FD" stroke="#F2F8FD" stroke-width="0.8"/>
</g>
<path d="M534.5,271.9 L521.2,296.0 L516.9,293.6 L516.7,311.8 L532.0,301.9 L527.7,299.6 L540.9,275.5Z" fill="#E73945" stroke="#fff" stroke-width="1" paint-order="stroke"/>
<path d="M571.9,275.2 L571.9,386.4 L567.0,386.4 L575.6,402.4 L584.2,386.4 L579.3,386.4 L579.3,275.2Z" fill="#E73945" stroke="#fff" stroke-width="1" paint-order="stroke"/>
<path d="M609.2,275.0 L694.8,401.6 L690.7,404.4 L706.8,412.8 L705.0,394.7 L700.9,397.5 L615.4,270.8Z" fill="#E73945" stroke="#fff" stroke-width="1" paint-order="stroke"/>
<path d="M632.3,261.4 L654.2,265.9 L653.1,271.2 L669.0,265.6 L656.5,254.3 L655.4,259.6 L633.5,255.2Z" fill="#E73945" stroke="#fff" stroke-width="1" paint-order="stroke"/>
<g transform="translate(770.7,192.9)" stroke="#808080" fill="none" stroke-linecap="round" stroke-linejoin="round">
<circle cx="8.7" cy="2.9" r="2.9" fill="#808080" stroke="none"/>
<path d="M6.6,8.8 L10.6,8.8 L10.2,19 L7.2,19Z" fill="#808080" stroke-width="2.2"/>
<path d="M6,9 L2.8,12.4 L1.8,15.8" stroke-width="2.5"/>
<path d="M11,8.8 L13.8,12 L15.8,12.8" stroke-width="2.5"/>
<path d="M7.8,18.8 L6.2,24.6 L1.6,29.8" stroke-width="3.1"/>
<path d="M9.6,18.8 L10.8,24 L12,29.8" stroke-width="3.1"/>
</g>
<g stroke="#808080" fill="none" stroke-linecap="round" stroke-linejoin="round">
<circle cx="791.1" cy="320.8" r="2.9" fill="#808080" stroke="none"/>
<path d="M788.6,326.2 L793.8,326.2 L793.6,340 L789.4,340Z" fill="#808080" stroke-width="1.8"/>
<path d="M788.4,326.4 L785.6,332.4 L783.2,336" stroke-width="2.1"/><path d="M794,326.4 L796.6,331 L798.8,335.6" stroke-width="2.1"/>
<path d="M790.2,340 L789,347 L787.6,354.4" stroke-width="2.8"/><path d="M792.8,340 L794.6,346 L797.4,352.8" stroke-width="2.8"/>
<circle cx="806.3" cy="331.7" r="2.3" fill="#808080" stroke="none"/>
<path d="M804.6,335.8 L808,335.8 L808,345 L804.8,345Z" fill="#808080" stroke-width="1.4"/>
<path d="M804.4,336 L802.4,340 L801.2,341.6" stroke-width="1.7"/><path d="M808.2,336 L810.4,339.4 L812.6,341.2" stroke-width="1.7"/>
<path d="M805.6,345 L805.8,352.6" stroke-width="2.1"/><path d="M807.4,345 L810.2,352" stroke-width="2.1"/>
<circle cx="817.7" cy="331.7" r="2.3" fill="#808080" stroke="none"/>
<path d="M816.4,335.6 L819,335.6 L821.6,346.2 L814.6,346.2Z" fill="#808080" stroke-width="1.4"/>
<path d="M816.2,336.2 L813.6,340.6 L812.8,341.2" stroke-width="1.6"/><path d="M819.2,336.2 L820.6,340.6" stroke-width="1.6"/>
<path d="M817.2,346 L817.4,352.6" stroke-width="1.9"/><path d="M819.4,346 L821.4,352" stroke-width="1.9"/>
<circle cx="829.8" cy="319.8" r="2.9" fill="#808080" stroke="none"/>
<path d="M828.4,324.8 L831.8,324.8 L833.4,330 L838.8,342 L828.4,342 L829.4,332Z" fill="#808080" stroke-width="1.6"/>
<path d="M828.4,325.4 L826.6,331.6 L822,333.4" stroke-width="1.9"/>
<path d="M831.6,342 L831.6,353" stroke-width="2.3"/><path d="M835.4,342 L838.2,352.6" stroke-width="2.3"/>
</g>
<g stroke="#808080" fill="none" stroke-linecap="round" stroke-linejoin="round">
<circle cx="495.7" cy="344.5" r="6" stroke-width="2.4"/><circle cx="522.4" cy="344.5" r="6" stroke-width="2.4"/>
<path d="M495.7,344.5 L500.8,328.6" stroke-width="2.1"/><path d="M514.2,344.5 L522.4,344.5" stroke-width="2"/>
<circle cx="510" cy="317.6" r="3.2" fill="#808080" stroke="none"/>
<path d="M509.2,323.2 C513,322.2 515,324.4 515.2,328 L515.6,336 L511.4,337 L508.4,328 Z" fill="#808080" stroke-width="1.6"/>
<path d="M509.8,323.6 L505,325.8 L501.6,327.2" stroke-width="2.4"/>
<path d="M514,335.4 L505.4,335.6 L509.6,341.6" stroke-width="3"/>
<path d="M514,336.4 L511.6,343 L509.6,348" stroke-width="2.6"/>
</g>
<g stroke="#808080" fill="none" stroke-linecap="round" stroke-linejoin="round">
<circle cx="669" cy="279.2" r="3.5" stroke-width="2.4"/><circle cx="698.3" cy="279.2" r="3.5" stroke-width="2.4"/>
<path d="M669,279.2 L672.6,279.2" stroke-width="1.6"/>
<path d="M674.4,277.8 L692.4,277.8 L697.4,273.6 L693.6,258.4 L688.4,258.4" stroke-width="2"/>
<circle cx="684.3" cy="247.9" r="3.4" fill="#808080" stroke="none"/>
<path d="M682,253.6 L685.8,253.6 L686.8,265 L682.8,265.4Z" fill="#808080" stroke-width="1.8"/>
<path d="M685.8,254.6 L689,257.8 L693,258.4" stroke-width="2.1"/>
<path d="M683.6,265 L681,271 L677.8,276.4" stroke-width="2.6"/><path d="M685.8,265 L686.8,271 L687.6,276.4" stroke-width="2.6"/>
</g>
<path d="M599.9,418.2 A29.4,29.4 0 1 0 594.1,410.8 L583.6,416.1Z" fill="#fff" stroke="#E73945" stroke-width="1.1" stroke-linejoin="round"/>
<clipPath id="bc619"><circle cx="619.9" cy="396.7" r="28.9"/></clipPath>
<g clip-path="url(#bc619)">
<rect x="603.9" y="386.3" width="32" height="50" rx="2.4" fill="#fff" stroke="#808080" stroke-width="1.6"/>
<path d="M611.9,386.3 L627.9,386.3 L626.9,388.3 L612.9,388.3Z" fill="#808080"/>
</g>
<path d="M617.0,382.6 A3.8,3.8 0 0 1 622.8,382.6" fill="none" stroke="#E73945" stroke-width="1.8" stroke-linecap="round"/>
<path d="M614.3,380.2 A7.4,7.4 0 0 1 625.5,380.2" fill="none" stroke="#E73945" stroke-width="1.8" stroke-linecap="round"/>
<path d="M611.6,377.8 A11,11 0 0 1 628.2,377.8" fill="none" stroke="#E73945" stroke-width="1.8" stroke-linecap="round"/>
<path d="M619.9,419.90000000000003 C616.1,414.3 614.5,411.7 614.5,408.90000000000003 A5.4,5.4 0 0 1 625.3,408.90000000000003 C625.3,411.7 623.6999999999999,414.3 619.9,419.90000000000003Z" fill="#F6A5AC"/><circle cx="619.9" cy="408.90000000000003" r="2.1" fill="#fff"/>
<path d="M738.4,421.2 A29.2,29.2 0 1 0 733.1,413.2 L725,421.2Z" fill="#fff" stroke="#E73945" stroke-width="1.1" stroke-linejoin="round"/>
<clipPath id="bc759"><circle cx="759.8" cy="401.4" r="28.7"/></clipPath>
<g clip-path="url(#bc759)">
<rect x="743.8" y="391.0" width="32" height="50" rx="2.4" fill="#fff" stroke="#808080" stroke-width="1.6"/>
<path d="M751.8,391.0 L767.8,391.0 L766.8,393.0 L752.8,393.0Z" fill="#808080"/>
</g>
<path d="M756.9,387.3 A3.8,3.8 0 0 1 762.7,387.3" fill="none" stroke="#E73945" stroke-width="1.8" stroke-linecap="round"/>
<path d="M754.2,384.9 A7.4,7.4 0 0 1 765.4,384.9" fill="none" stroke="#E73945" stroke-width="1.8" stroke-linecap="round"/>
<path d="M751.5,382.5 A11,11 0 0 1 768.1,382.5" fill="none" stroke="#E73945" stroke-width="1.8" stroke-linecap="round"/>
<path d="M759.8,424.6 C756.0,419.0 754.4,416.4 754.4,413.6 A5.4,5.4 0 0 1 765.1999999999999,413.6 C765.1999999999999,416.4 763.5999999999999,419.0 759.8,424.6Z" fill="#F6A5AC"/><circle cx="759.8" cy="413.6" r="2.1" fill="#fff"/>
<g transform="translate(692.6,325.3)">
<path d="M2,0 L77.5,0 Q79.2,0 79.2,1.8 L79.2,30.3 L12,30.3 L0.6,27.6 Q0,27.4 0,26.6 L0,2 Q0,0 2,0Z" fill="#2671C9" stroke="#fff" stroke-width="1.2" paint-order="stroke"/>
<rect x="3.7" y="4.9" width="7.9" height="9" fill="#fff"/>
<rect x="15.8" y="4.9" width="7.9" height="9" fill="#fff"/>
<rect x="42.7" y="4.9" width="7.9" height="9" fill="#fff"/>
<rect x="54.9" y="4.9" width="7.9" height="9" fill="#fff"/>
<rect x="27.6" y="7.1" width="4.6" height="21.6" fill="#fff"/><rect x="34" y="7.1" width="4.6" height="21.6" fill="#fff"/>
<path d="M68.1,5.5 L77.1,5.5 L77.1,19.5 L68.1,16Z M68.1,18.6 L77.1,22.2 L77.1,25 L68.1,25Z" fill="#fff"/>
<path d="M1,18.3 L10.5,18.3 M1,20.3 L10.5,20.3 M1,22.3 L10.5,22.3 M1,24.3 L10.5,24.3" stroke="#fff" stroke-width="1" fill="none"/>
<circle cx="17.9" cy="28.1" r="6.6" fill="#fff"/><circle cx="17.9" cy="28.1" r="5.6" fill="#2671C9"/><circle cx="17.9" cy="28.1" r="2.7" fill="#fff"/>
<circle cx="58.6" cy="28.1" r="6.6" fill="#fff"/><circle cx="58.6" cy="28.1" r="5.6" fill="#2671C9"/><circle cx="58.6" cy="28.1" r="2.7" fill="#fff"/>
</g>
<g transform="translate(684.8,431.2)">
<path d="M1.8,0 L156.7,0 Q158.5,0 158.5,1.8 L158.5,26.4 Q158.5,27.2 157.8,27.4 L148,29.1 L0,29.1 L0,1.8 Q0,0 1.8,0Z" fill="#2671C9" stroke="#fff" stroke-width="1.2" paint-order="stroke"/>
<rect x="73.9" y="0" width="8.3" height="29.1" fill="#5C98DC"/>
<path d="M75.2,0 L75.2,29.1 M77.1,0 L77.1,29.1 M79,0 L79,29.1 M80.9,0 L80.9,29.1" stroke="#CFE2F6" stroke-width="0.6"/>
<path d="M2.5,4.3 L11.7,4.3 L11.7,15 L2.5,19Z M2.5,21.4 L11.7,17.6 L11.7,24.7 L2.5,24.7Z" fill="#fff"/>
<rect x="16.5" y="3.9" width="8" height="9.1" fill="#fff"/>
<rect x="28.2" y="3.9" width="8" height="9.1" fill="#fff"/>
<rect x="55.4" y="3.9" width="8" height="9.1" fill="#fff"/>
<rect x="95.3" y="3.9" width="8" height="9.1" fill="#fff"/>
<rect x="123.1" y="3.9" width="8" height="9.1" fill="#fff"/>
<rect x="134.8" y="3.9" width="8" height="9.1" fill="#fff"/>
<rect x="146.8" y="3.9" width="8" height="9.1" fill="#fff"/>
<rect x="40.3" y="6.2" width="4.9" height="21.4" fill="#fff"/>
<rect x="46.7" y="6.2" width="4.9" height="21.4" fill="#fff"/>
<rect x="106" y="6.2" width="4.9" height="21.4" fill="#fff"/>
<rect x="112.2" y="6.2" width="4.9" height="21.4" fill="#fff"/>
<path d="M147.8,17.4 L156.5,17.4 M147.8,19.2 L156.5,19.2 M147.8,21 L156.5,21 M147.8,22.8 L156.5,22.8 M147.8,24.6 L156.5,24.6" stroke="#BFD6F0" stroke-width="0.9" fill="none"/>
<circle cx="20" cy="27.6" r="6.2" fill="#fff"/><circle cx="20" cy="27.6" r="5.2" fill="#2671C9"/><circle cx="20" cy="27.6" r="2.5" fill="#fff"/>
<circle cx="60.3" cy="27.6" r="6.2" fill="#fff"/><circle cx="60.3" cy="27.6" r="5.2" fill="#2671C9"/><circle cx="60.3" cy="27.6" r="2.5" fill="#fff"/>
<circle cx="127.4" cy="27.6" r="6.2" fill="#fff"/><circle cx="127.4" cy="27.6" r="5.2" fill="#2671C9"/><circle cx="127.4" cy="27.6" r="2.5" fill="#fff"/>
</g>
<g transform="translate(587,409.2) scale(-0.92,0.92)" stroke-linecap="round" stroke-linejoin="round">
<circle cx="14.3" cy="4.5" r="5.4" fill="#fff"/><path d="M11.2,11.8 L17,11.8 L16.6,27 L12.4,27Z" fill="#fff" stroke="#fff" stroke-width="5.4"/><path d="M10.4,12.6 L6.6,18 L4.2,22.2" fill="none" stroke="#fff" stroke-width="5.6"/><path d="M18,12.8 L22,18.2 L22.3,20.6" fill="none" stroke="#fff" stroke-width="5.4"/><path d="M13,27 L9.6,36 L2.4,44.4" fill="none" stroke="#fff" stroke-width="6.6"/><path d="M16,27 L18.4,37 L19.8,45" fill="none" stroke="#fff" stroke-width="6.6"/>
<circle cx="14.3" cy="4.5" r="4.2" fill="#808080"/><path d="M11.2,11.8 L17,11.8 L16.6,27 L12.4,27Z" fill="#808080" stroke="#808080" stroke-width="3"/><path d="M10.4,12.6 L6.6,18 L4.2,22.2" fill="none" stroke="#808080" stroke-width="3.2"/><path d="M18,12.8 L22,18.2 L22.3,20.6" fill="none" stroke="#808080" stroke-width="3"/><path d="M13,27 L9.6,36 L2.4,44.4" fill="none" stroke="#808080" stroke-width="4.2"/><path d="M16,27 L18.4,37 L19.8,45" fill="none" stroke="#808080" stroke-width="4.2"/>
<g transform="translate(27,15.4) rotate(15)"><rect x="-3.3" y="-5.4" width="6.6" height="10.8" rx="1.2" fill="#fff" stroke="#fff" stroke-width="2.6"/><rect x="-3.3" y="-5.4" width="6.6" height="10.8" rx="1.2" fill="#fff" stroke="#808080" stroke-width="0.8"/><circle cx="0" cy="-0.8" r="1.4" fill="#F6A5AC"/><path d="M-1.1,0.2 L0,2.4 L1.1,0.2Z" fill="#F6A5AC"/></g>
</g>
<g transform="translate(700,417.5) scale(1.0)" stroke-linecap="round" stroke-linejoin="round">
<circle cx="14.3" cy="4.5" r="5.4" fill="#fff"/><path d="M11.2,11.8 L17,11.8 L16.6,27 L12.4,27Z" fill="#fff" stroke="#fff" stroke-width="5.4"/><path d="M10.4,12.6 L6.6,18 L4.2,22.2" fill="none" stroke="#fff" stroke-width="5.6"/><path d="M18,12.8 L22,18.2 L25.8,20.6" fill="none" stroke="#fff" stroke-width="5.4"/><path d="M13,27 L9.6,36 L2.4,44.4" fill="none" stroke="#fff" stroke-width="6.6"/><path d="M16,27 L18.4,37 L19.8,45" fill="none" stroke="#fff" stroke-width="6.6"/>
<circle cx="14.3" cy="4.5" r="4.2" fill="#808080"/><path d="M11.2,11.8 L17,11.8 L16.6,27 L12.4,27Z" fill="#808080" stroke="#808080" stroke-width="3"/><path d="M10.4,12.6 L6.6,18 L4.2,22.2" fill="none" stroke="#808080" stroke-width="3.2"/><path d="M18,12.8 L22,18.2 L25.8,20.6" fill="none" stroke="#808080" stroke-width="3"/><path d="M13,27 L9.6,36 L2.4,44.4" fill="none" stroke="#808080" stroke-width="4.2"/><path d="M16,27 L18.4,37 L19.8,45" fill="none" stroke="#808080" stroke-width="4.2"/>
<g transform="translate(30.5,15.4) rotate(15)"><rect x="-3.3" y="-5.4" width="6.6" height="10.8" rx="1.2" fill="#fff" stroke="#fff" stroke-width="2.6"/><rect x="-3.3" y="-5.4" width="6.6" height="10.8" rx="1.2" fill="#fff" stroke="#808080" stroke-width="0.8"/><circle cx="0" cy="-0.8" r="1.4" fill="#F6A5AC"/><path d="M-1.1,0.2 L0,2.4 L1.1,0.2Z" fill="#F6A5AC"/></g>
</g>
</svg></body></html>
